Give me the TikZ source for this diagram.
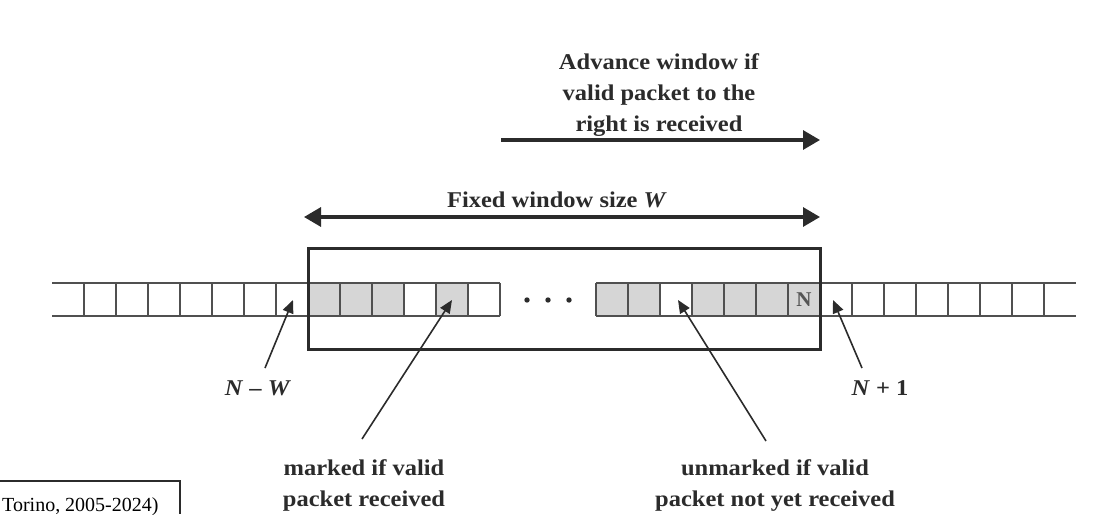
\documentclass[tikz,border=0pt]{standalone}
\usepackage{fontspec}
\usepackage{graphicx}
\setmainfont{Liberation Serif}
\usetikzlibrary{arrows.meta}
\definecolor{ink}{HTML}{2B2B2B}
\definecolor{cellline}{HTML}{505050}
\definecolor{cellfill}{HTML}{D6D6D6}
\definecolor{nink}{HTML}{555555}
\newcommand{\vsq}[1]{\scalebox{1}[0.92]{#1}}
\begin{document}
\begin{tikzpicture}[x=1pt,y=-1pt,
  lbl/.style={font=\fontsize{24.5}{31}\selectfont\bfseries, text=ink, align=center, inner sep=0pt},
  cellrule/.style={draw=cellline, line width=1.4pt},
  winbox/.style={draw=ink, line width=3pt},
  bigarrow/.style={draw=ink, line width=3.2pt, -{Triangle[length=17pt,width=19pt]}},
  bigdarrow/.style={draw=ink, line width=3.2pt, {Triangle[length=17pt,width=19pt]}-{Triangle[length=17pt,width=19pt]}},
  pointer/.style={draw=ink, line width=1.6pt, -{Triangle[length=13pt,width=11pt]}},
  dotstyle/.style={fill=ink, draw=none}]
\useasboundingbox (0,0) rectangle (1108,514);

% grey cells inside the window
\foreach \a in {308,340,372,436,596,628,692,724,756,788}
  \fill[cellfill] (\a,283) rectangle ++(32,33);

% left strip
\draw[cellrule] (52,283) -- (500,283);
\draw[cellrule] (52,316) -- (500,316);
\foreach \a in {84,116,...,500}
  \draw[cellrule] (\a,283) -- (\a,316);
% right strip
\draw[cellrule] (596,283) -- (1076,283);
\draw[cellrule] (596,316) -- (1076,316);
\foreach \a in {596,628,...,1044}
  \draw[cellrule] (\a,283) -- (\a,316);

% dots
\foreach \a in {527,548,569}
  \fill[dotstyle] (\a,300) circle (2.7);

% window box
\draw[winbox] (308,248) rectangle (820,349);

% N in last cell
\node[font=\fontsize{21}{24}\selectfont\bfseries, text=nink, inner sep=0pt] (ncell) at (804,300) {N};

% top labels and arrows
\node[lbl] (adv) at (659,95) {\vsq{Advance window if}\\\vsq{valid packet to the}\\\vsq{right is received}};
\coordinate (advS) at (501,140);
\coordinate (advE) at (820,140);
\draw[bigarrow] (advS) -- (advE);

\node[lbl, anchor=base] (fixed) at (557,207) {\vsq{Fixed window size \textit{W}}};
\coordinate (fixS) at (304,217);
\coordinate (fixE) at (820,217);
\draw[bigdarrow] (fixS) -- (fixE);

% lower labels
\node[lbl, anchor=base] (nw) at (258,395) {\vsq{\textit{N} – \textit{W}}};
\node[lbl, anchor=base] (np) at (880,395) {\vsq{\textit{N} + 1}};
\node[lbl] (marked) at (364,485) {\vsq{marked if valid}\\\vsq{packet received}};
\node[lbl] (unmarked) at (775,485) {\vsq{unmarked if valid}\\\vsq{packet not yet received}};

% pointers
\coordinate (nwT) at (265,368);
\coordinate (nwH) at (293,300);
\draw[pointer] (nwT) -- (nwH);
\coordinate (mkT) at (362,439);
\coordinate (mkH) at (452,300);
\draw[pointer] (mkT) -- (mkH);
\coordinate (umT) at (766,441);
\coordinate (umH) at (678,300);
\draw[pointer] (umT) -- (umH);
\coordinate (npT) at (862,368);
\coordinate (npH) at (833,300);
\draw[pointer] (npT) -- (npH);

% cropped caption box
\coordinate (capA) at (0,481);
\coordinate (capB) at (180,481);
\coordinate (capC) at (180,514);
\draw[draw=ink, line width=1.2pt] (capA) -- (capB) -- (capC);
\node[font=\fontsize{20}{24}\selectfont, text=black, anchor=base west, inner sep=0pt] (cap) at (2,511) {Torino, 2005-2024)};
\end{tikzpicture}
\end{document}
